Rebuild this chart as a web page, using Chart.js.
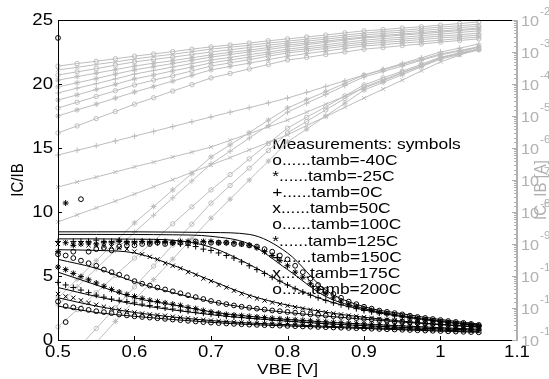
<!DOCTYPE html>
<html>
<head>
<meta charset="utf-8">
<script src="https://cdn.jsdelivr.net/npm/chart.js@4.4.1/dist/chart.umd.min.js"></script>
<style>
  html, body { margin: 0; padding: 0; background: #fff; }
</style>
</head>
<body>
<canvas id="gummel" width="549" height="379"></canvas>
<script>
// sweep points
const vbeMeas = [
  0.50, 0.51, 0.52, 0.53, 0.54, 0.55, 0.56, 0.57, 0.58, 0.59,
  0.60, 0.61, 0.62, 0.63, 0.64, 0.65, 0.66, 0.67, 0.68, 0.69,
  0.70, 0.71, 0.72, 0.73, 0.74, 0.75, 0.76, 0.77, 0.78, 0.79,
  0.80, 0.81, 0.82, 0.83, 0.84, 0.85, 0.86, 0.87, 0.88, 0.89,
  0.90, 0.91, 0.92, 0.93, 0.94, 0.95, 0.96, 0.97, 0.98, 0.99,
  1.00, 1.01, 1.02, 1.03, 1.04, 1.05
];
const vbeModel = [0.50, 0.55, 0.60, 0.65, 0.70, 0.75, 0.80, 0.85, 0.90, 0.95, 1.00, 1.05];
const vbeGummel = [
  0.500, 0.525, 0.550, 0.575, 0.600, 0.625, 0.650, 0.675, 0.700, 0.725, 0.750, 0.775,
  0.800, 0.825, 0.850, 0.875, 0.900, 0.925, 0.950, 0.975, 1.000, 1.025, 1.050
];

// IC/IB measured, one array per ambient temperature
const betaM40 = [
  23.6, 1.4, 6.9, 11.0, 6.9, 7.1, 7.2, 7.0, 7.3, 7.4,
  7.4, 7.5, 7.5, 7.6, 7.5, 7.6, 7.6, 7.6, 7.7, 7.6,
  7.6, 7.6, 7.6, 7.5, 7.5, 7.4, 7.3, 7.1, 6.9, 6.6,
  6.3, 5.8, 5.3, 4.8, 4.3, 3.9, 3.6, 3.3, 3.0, 2.8,
  2.6, 2.45, 2.3, 2.2, 2.1, 2.0, 1.9, 1.8, 1.72, 1.64,
  1.56, 1.48, 1.41, 1.34, 1.26, 1.18
];
const betaM25 = [
  6.9, 10.7, 7.4, 7.5, 7.6, 7.5, 7.6, 7.6, 7.7, 7.6,
  7.6, 7.7, 7.6, 7.7, 7.7, 7.6, 7.7, 7.7, 7.6, 7.7,
  7.7, 7.6, 7.6, 7.6, 7.5, 7.4, 7.2, 6.9, 6.6, 6.2,
  5.8, 5.3, 4.9, 4.4, 4.0, 3.6, 3.3, 3.05, 2.8, 2.6,
  2.45, 2.3, 2.15, 2.05, 1.95, 1.85, 1.75, 1.66, 1.58, 1.5,
  1.42, 1.35, 1.28, 1.21, 1.15, 1.09
];
const beta0 = [
  7.7, 7.6, 7.7, 7.7, 7.7, 7.8, 7.7, 7.7, 7.8, 7.7,
  7.7, 7.7, 7.7, 7.6, 7.6, 7.6, 7.5, 7.4, 7.3, 7.1,
  7.0, 6.8, 6.6, 6.4, 6.1, 5.8, 5.5, 5.2, 4.9, 4.6,
  4.3, 4.0, 3.75, 3.5, 3.3, 3.1, 2.9, 2.75, 2.6, 2.45,
  2.3, 2.2, 2.1, 2.0, 1.9, 1.8, 1.72, 1.64, 1.56, 1.49,
  1.42, 1.35, 1.28, 1.22, 1.16, 1.1
];
const beta50 = [
  7.5, 7.6, 7.5, 7.5, 7.4, 7.4, 7.3, 7.3, 7.2, 7.1,
  6.9, 6.7, 6.5, 6.3, 6.0, 5.8, 5.6, 5.3, 5.1, 4.8,
  4.6, 4.3, 4.1, 3.85, 3.62, 3.42, 3.24, 3.08, 2.93, 2.8,
  2.68, 2.57, 2.46, 2.36, 2.26, 2.17, 2.08, 2.0, 1.92, 1.85,
  1.78, 1.71, 1.65, 1.59, 1.53, 1.47, 1.42, 1.37, 1.32, 1.27,
  1.22, 1.18, 1.13, 1.09, 1.05, 1.01
];
const beta100 = [
  6.7, 6.6, 6.4, 6.2, 6.0, 5.8, 5.5, 5.3, 5.1, 4.9,
  4.6, 4.4, 4.25, 4.1, 3.95, 3.8, 3.65, 3.5, 3.35, 3.2,
  3.05, 2.9, 2.8, 2.7, 2.6, 2.52, 2.45, 2.38, 2.31, 2.25,
  2.19, 2.13, 2.07, 2.01, 1.96, 1.91, 1.86, 1.81, 1.76, 1.71,
  1.66, 1.61, 1.56, 1.51, 1.47, 1.43, 1.39, 1.35, 1.31, 1.27,
  1.23, 1.19, 1.15, 1.12, 1.09, 1.06
];
const beta125 = [
  5.7, 5.5, 5.2, 4.95, 4.7, 4.45, 4.2, 3.95, 3.75, 3.55,
  3.4, 3.25, 3.1, 3.0, 2.9, 2.8, 2.7, 2.55, 2.45, 2.3,
  2.2, 2.1, 2.0, 1.95, 1.9, 1.85, 1.8, 1.75, 1.7, 1.66,
  1.62, 1.58, 1.54, 1.5, 1.46, 1.42, 1.38, 1.35, 1.32, 1.29,
  1.26, 1.23, 1.2, 1.17, 1.14, 1.11, 1.08, 1.05, 1.02, 0.99,
  0.96, 0.93, 0.91, 0.89, 0.87, 0.85
];
const beta150 = [
  4.5, 4.3, 4.1, 3.9, 3.7, 3.5, 3.35, 3.2, 3.1, 3.0,
  2.9, 2.8, 2.7, 2.6, 2.5, 2.42, 2.33, 2.25, 2.17, 2.1,
  2.02, 1.95, 1.85, 1.8, 1.75, 1.7, 1.65, 1.6, 1.55, 1.51,
  1.47, 1.43, 1.39, 1.35, 1.31, 1.27, 1.24, 1.21, 1.18, 1.15,
  1.12, 1.09, 1.06, 1.03, 1.0, 0.97, 0.95, 0.93, 0.91, 0.89,
  0.87, 0.85, 0.83, 0.81, 0.79, 0.77
];
const beta175 = [
  3.6, 3.4, 3.3, 3.1, 2.9, 2.75, 2.6, 2.45, 2.35, 2.25,
  2.15, 2.07, 2.0, 1.95, 1.9, 1.82, 1.76, 1.7, 1.64, 1.58,
  1.52, 1.47, 1.42, 1.39, 1.36, 1.33, 1.3, 1.27, 1.25, 1.22,
  1.2, 1.17, 1.15, 1.12, 1.1, 1.07, 1.05, 1.03, 1.01, 0.99,
  0.97, 0.95, 0.93, 0.91, 0.89, 0.87, 0.85, 0.83, 0.81, 0.79,
  0.77, 0.75, 0.73, 0.71, 0.69, 0.67
];
const beta200 = [
  3.0, 2.65, 2.55, 2.45, 2.35, 2.25, 2.18, 2.1, 2.0, 1.92,
  1.85, 1.8, 1.75, 1.7, 1.65, 1.6, 1.55, 1.5, 1.45, 1.4,
  1.36, 1.32, 1.29, 1.26, 1.23, 1.2, 1.18, 1.16, 1.14, 1.12,
  1.1, 1.08, 1.06, 1.04, 1.02, 1.0, 0.98, 0.96, 0.94, 0.92,
  0.9, 0.88, 0.86, 0.84, 0.82, 0.8, 0.78, 0.76, 0.74, 0.72,
  0.7, 0.68, 0.66, 0.64, 0.62, 0.6
];

// IC/IB simulated (solid lines)
const modelM40 = [8.45, 8.45, 8.45, 8.43, 8.4, 8.25, 6.8, 3.9, 2.6, 2.05, 1.6, 1.25];
const modelM25 = [8.25, 8.25, 8.24, 8.22, 8.1, 7.5, 5.5, 3.4, 2.45, 1.9, 1.5, 1.17];
const model0   = [7.9, 7.9, 7.88, 7.8, 7.25, 5.9, 4.3, 3.1, 2.35, 1.82, 1.43, 1.12];
const model50  = [7.05, 7.0, 6.8, 5.85, 4.65, 3.5, 2.72, 2.17, 1.78, 1.47, 1.22, 1.0];
const model100 = [6.3, 5.6, 4.55, 3.7, 3.0, 2.5, 2.15, 1.87, 1.62, 1.4, 1.2, 1.03];
const model125 = [5.3, 4.3, 3.3, 2.75, 2.2, 1.85, 1.6, 1.4, 1.24, 1.1, 0.96, 0.84];
const model150 = [4.1, 3.4, 2.8, 2.35, 1.98, 1.7, 1.47, 1.27, 1.12, 0.98, 0.87, 0.77];
const model175 = [3.3, 2.65, 2.15, 1.8, 1.52, 1.33, 1.2, 1.07, 0.97, 0.87, 0.77, 0.67];
const model200 = [2.65, 2.15, 1.85, 1.6, 1.38, 1.21, 1.1, 1.0, 0.9, 0.8, 0.7, 0.61];

// IC and IB curves, log10 of the current in A (right axis)
const gummel01 = [-3.44, -3.36, -3.29, -3.21, -3.13, -3.06, -2.99, -2.91, -2.84, -2.78, -2.72, -2.65, -2.59, -2.53, -2.47, -2.40, -2.34, -2.30, -2.25, -2.21, -2.16, -2.11, -2.06];
const gummel02 = [-3.56, -3.48, -3.39, -3.31, -3.22, -3.14, -3.07, -2.99, -2.91, -2.85, -2.79, -2.72, -2.66, -2.60, -2.54, -2.47, -2.41, -2.36, -2.32, -2.27, -2.22, -2.18, -2.13];
const gummel03 = [-3.72, -3.62, -3.52, -3.41, -3.31, -3.23, -3.16, -3.08, -3.00, -2.93, -2.86, -2.79, -2.72, -2.66, -2.60, -2.53, -2.47, -2.42, -2.38, -2.33, -2.28, -2.24, -2.19];
const gummel04 = [-3.88, -3.77, -3.66, -3.55, -3.44, -3.35, -3.27, -3.18, -3.09, -3.01, -2.94, -2.86, -2.78, -2.72, -2.66, -2.59, -2.53, -2.48, -2.44, -2.39, -2.34, -2.30, -2.25];
const gummel05 = [-4.09, -3.96, -3.83, -3.69, -3.56, -3.46, -3.36, -3.26, -3.16, -3.08, -3.00, -2.92, -2.84, -2.77, -2.70, -2.63, -2.56, -2.52, -2.47, -2.43, -2.38, -2.33, -2.28];
const gummel06 = [-4.28, -4.13, -3.99, -3.84, -3.69, -3.58, -3.47, -3.36, -3.25, -3.17, -3.08, -3.00, -2.91, -2.84, -2.77, -2.70, -2.63, -2.58, -2.54, -2.49, -2.44, -2.39, -2.34];
const gummel07 = [-4.50, -4.34, -4.17, -4.01, -3.84, -3.72, -3.59, -3.47, -3.34, -3.25, -3.16, -3.06, -2.97, -2.90, -2.83, -2.76, -2.69, -2.64, -2.60, -2.55, -2.50, -2.46, -2.41];
const gummel08 = [-4.75, -4.57, -4.39, -4.21, -4.03, -3.88, -3.74, -3.59, -3.44, -3.34, -3.24, -3.13, -3.03, -2.96, -2.89, -2.82, -2.75, -2.70, -2.66, -2.61, -2.56, -2.52, -2.47];
const gummel09 = [-5.00, -4.81, -4.63, -4.44, -4.25, -4.08, -3.91, -3.73, -3.56, -3.45, -3.35, -3.24, -3.13, -3.05, -2.97, -2.89, -2.81, -2.77, -2.72, -2.68, -2.63, -2.58, -2.53];
const gummel10 = [-5.53, -5.31, -5.08, -4.86, -4.63, -4.43, -4.22, -4.02, -3.81, -3.67, -3.53, -3.39, -3.25, -3.17, -3.08, -3.00, -2.91, -2.86, -2.80, -2.75, -2.69, -2.64, -2.59];
const gummel11 = [-6.22, -6.07, -5.93, -5.78, -5.63, -5.48, -5.33, -5.18, -5.03, -4.88, -4.74, -4.59, -4.44, -4.26, -4.08, -3.90, -3.72, -3.54, -3.36, -3.18, -3.00, -2.88, -2.75];
const gummel12 = [-7.22, -7.06, -6.91, -6.75, -6.59, -6.44, -6.28, -6.13, -5.97, -5.76, -5.55, -5.34, -5.13, -4.88, -4.63, -4.38, -4.13, -3.90, -3.66, -3.43, -3.19, -3.02, -2.84];
const gummel13 = [-8.31, -8.09, -7.87, -7.66, -7.44, -7.21, -6.99, -6.76, -6.53, -6.30, -6.06, -5.83, -5.59, -5.30, -5.02, -4.73, -4.44, -4.16, -3.88, -3.59, -3.31, -3.10, -2.88];
const gummel14 = [-10.69, -10.10, -9.52, -8.93, -8.34, -7.83, -7.31, -6.80, -6.28, -5.90, -5.52, -5.13, -4.75, -4.49, -4.24, -3.98, -3.72, -3.56, -3.39, -3.23, -3.06, -2.95, -2.84];
const gummel15 = [-10.91, -10.34, -9.77, -9.20, -8.63, -8.10, -7.56, -7.03, -6.50, -6.10, -5.69, -5.29, -4.88, -4.60, -4.33, -4.05, -3.78, -3.61, -3.44, -3.26, -3.09, -2.97, -2.84];
const gummel16 = [-11.59, -11.05, -10.52, -9.98, -9.44, -8.91, -8.37, -7.84, -7.31, -6.83, -6.34, -5.86, -5.38, -5.04, -4.71, -4.37, -4.03, -3.81, -3.60, -3.38, -3.16, -3.04, -2.91];
const gummel17 = [-12.94, -12.29, -11.64, -10.99, -10.34, -9.69, -9.03, -8.38, -7.72, -7.17, -6.63, -6.08, -5.53, -5.17, -4.81, -4.45, -4.09, -3.87, -3.64, -3.42, -3.19, -3.05, -2.91];
const gummel18 = [-13.41, -12.75, -12.08, -11.42, -10.75, -10.11, -9.47, -8.83, -8.19, -7.60, -7.00, -6.41, -5.81, -5.41, -5.00, -4.60, -4.19, -3.95, -3.71, -3.46, -3.22, -3.08, -2.94];

const legendLines = [
  'Measurements: symbols',
  'o......tamb=-40C',
  '*......tamb=-25C',
  '+......tamb=0C',
  'x......tamb=50C',
  'o......tamb=100C',
  '*......tamb=125C',
  '+......tamb=150C',
  'x......tamb=175C',
  'o......tamb=200C'
];

// symbol per temperature: o * + x o * + x o
const measSeries = [
  [betaM40, 'circle'], [betaM25, 'star'], [beta0, 'cross'], [beta50, 'crossRot'],
  [beta100, 'circle'], [beta125, 'star'], [beta150, 'cross'], [beta175, 'crossRot'],
  [beta200, 'circle']
];
const modelSeries = [modelM40, modelM25, model0, model50, model100, model125, model150, model175, model200];
const gummelSeries = [
  [gummel01, 'circle'], [gummel02, 'crossRot'], [gummel03, 'circle'], [gummel04, 'star'],
  [gummel05, 'star'], [gummel06, 'cross'], [gummel07, 'star'], [gummel08, 'circle'],
  [gummel09, 'star'], [gummel10, 'circle'], [gummel11, 'cross'], [gummel12, 'crossRot'],
  [gummel13, 'crossRot'], [gummel14, 'star'], [gummel15, 'cross'], [gummel16, 'circle'],
  [gummel17, 'circle'], [gummel18, 'star']
];

const FONT = "'Liberation Sans', Arial, sans-serif";
const SX = 1.16;          // lettering is a bit wide, stretch horizontally
const GREY = '#bdbdbd';
const GREY_AXIS = '#b0b0b0';

function putText(ctx, txt, x, y, align, size, color) {
  ctx.save();
  ctx.translate(x, y);
  ctx.scale(SX, 1);
  ctx.font = size + 'px ' + FONT;
  ctx.fillStyle = color;
  ctx.textAlign = align;
  ctx.textBaseline = 'middle';
  ctx.fillText(txt, 0, 0);
  ctx.restore();
}

function putVertical(ctx, txt, x, y, size, color) {
  ctx.save();
  ctx.translate(x, y);
  ctx.rotate(-Math.PI / 2);
  ctx.scale(1, SX);
  ctx.font = size + 'px ' + FONT;
  ctx.fillStyle = color;
  ctx.textAlign = 'center';
  ctx.textBaseline = 'middle';
  ctx.fillText(txt, 0, 0);
  ctx.restore();
}

// matlab-ish frame: inward ticks, stretched labels, grey log axis on the right
const lettering = {
  id: 'lettering',
  beforeDatasetsDraw(chart) {
    const { ctx, scales: { x, y } } = chart;
    const x0 = x.getPixelForValue(0.78);
    const y0 = y.getPixelForValue(15.25);
    legendLines.forEach((line, i) => putText(ctx, line, x0, y0 + i * 16.1, 'left', 15, '#000'));
  },
  afterDraw(chart) {
    const { ctx, chartArea: a, scales: { x, y, y2 } } = chart;
    ctx.save();

    // black frame (left, bottom, top)
    ctx.strokeStyle = '#000';
    ctx.lineWidth = 1;
    ctx.beginPath();
    ctx.moveTo(a.left + 0.5, a.top + 0.5);
    ctx.lineTo(a.left + 0.5, a.bottom + 0.5);
    ctx.lineTo(a.right, a.bottom + 0.5);
    ctx.moveTo(a.left, a.top + 0.5);
    ctx.lineTo(a.right, a.top + 0.5);
    x.ticks.forEach(t => {
      const px = Math.round(x.getPixelForValue(t.value)) + 0.5;
      ctx.moveTo(px, a.bottom);
      ctx.lineTo(px, a.bottom - 4);
    });
    y.ticks.forEach(t => {
      const py = Math.round(y.getPixelForValue(t.value)) + 0.5;
      ctx.moveTo(a.left, py);
      ctx.lineTo(a.left + 4, py);
    });
    ctx.stroke();

    x.ticks.forEach(t => {
      putText(ctx, String(Number(t.value.toFixed(1))), x.getPixelForValue(t.value), a.bottom + 13, 'center', 16, '#000');
    });
    y.ticks.forEach(t => {
      putText(ctx, String(t.value), a.left - 5, y.getPixelForValue(t.value) + 1, 'right', 16, '#000');
    });
    putText(ctx, 'VBE [V]', (a.left + a.right) / 2, a.bottom + 30, 'center', 15, '#000');
    putVertical(ctx, 'IC/IB', 18, (a.top + a.bottom) / 2, 15, '#000');

    // right log axis
    ctx.strokeStyle = GREY_AXIS;
    ctx.lineWidth = 2;
    ctx.beginPath();
    ctx.moveTo(a.right, a.top);
    ctx.lineTo(a.right, a.bottom + 1);
    ctx.stroke();
    ctx.lineWidth = 1;
    ctx.beginPath();
    const majors = [];
    y2.ticks.forEach(t => {
      const py = Math.round(y2.getPixelForValue(t.value)) + 0.5;
      const e = Math.log10(t.value);
      const major = Math.abs(e - Math.round(e)) < 1e-6;
      ctx.moveTo(a.right - 1, py);
      ctx.lineTo(a.right - (major ? 5 : 3), py);
      if (major) majors.push([py, Math.round(e)]);
    });
    ctx.stroke();
    ctx.font = '14px ' + FONT;
    const w10 = ctx.measureText('10').width * SX;
    majors.forEach(([py, e]) => {
      putText(ctx, '10', a.right + 4, py + 2, 'left', 14, GREY_AXIS);
      putText(ctx, String(e), a.right + 5 + w10, py - 8, 'left', 10, GREY_AXIS);
    });
    putVertical(ctx, 'IC, IB [A]', a.right + 24, (a.top + a.bottom) / 2 + 10, 15, GREY_AXIS);
    ctx.restore();
  }
};

const datasets = [];

measSeries.forEach(([vals, marker]) => {
  datasets.push({
    data: vals.map((v, i) => ({ x: vbeMeas[i], y: v })),
    yAxisID: 'y',
    showLine: false,
    pointStyle: marker,
    pointRadius: marker === 'circle' ? 2.4 : 3,
    pointBorderWidth: 1,
    pointBorderColor: '#000',
    pointBackgroundColor: 'rgba(0,0,0,0)',
    clip: false
  });
});

modelSeries.forEach(vals => {
  datasets.push({
    data: vals.map((v, i) => ({ x: vbeModel[i], y: v })),
    yAxisID: 'y',
    showLine: true,
    borderColor: '#000',
    borderWidth: 1,
    pointRadius: 0,
    cubicInterpolationMode: 'monotone',
    clip: false
  });
});

gummelSeries.forEach(([vals, marker]) => {
  datasets.push({
    data: vals.map((v, i) => ({ x: vbeGummel[i], y: Math.pow(10, v) })),
    yAxisID: 'y2',
    showLine: true,
    borderColor: GREY,
    borderWidth: 1,
    pointStyle: marker,
    pointRadius: marker === 'circle' ? 2.2 : 2.8,
    pointBorderWidth: 1,
    pointBorderColor: GREY,
    pointBackgroundColor: 'rgba(0,0,0,0)',
    clip: { left: 4, top: 4, right: 4, bottom: 0 }
  });
});

new Chart(document.getElementById('gummel'), {
  type: 'scatter',
  data: { datasets },
  options: {
    responsive: false,
    animation: false,
    devicePixelRatio: 1,
    layout: { padding: { top: 20, left: 0, right: 0, bottom: 0 } },
    plugins: { legend: { display: false }, tooltip: { enabled: false } },
    scales: {
      x: {
        type: 'linear', min: 0.5, max: 1.1,
        ticks: { display: false, stepSize: 0.1 },
        grid: { display: false }, border: { display: false },
        afterFit: s => { s.height = 39; }
      },
      y: {
        type: 'linear', position: 'left', min: 0, max: 25,
        ticks: { display: false, stepSize: 5 },
        grid: { display: false }, border: { display: false },
        afterFit: s => { s.width = 58; }
      },
      y2: {
        type: 'logarithmic', position: 'right', min: 1e-12, max: 1e-2,
        ticks: { display: false },
        grid: { display: false }, border: { display: false },
        afterFit: s => { s.width = 32; }
      }
    }
  },
  plugins: [lettering]
});
</script>
</body>
</html>
